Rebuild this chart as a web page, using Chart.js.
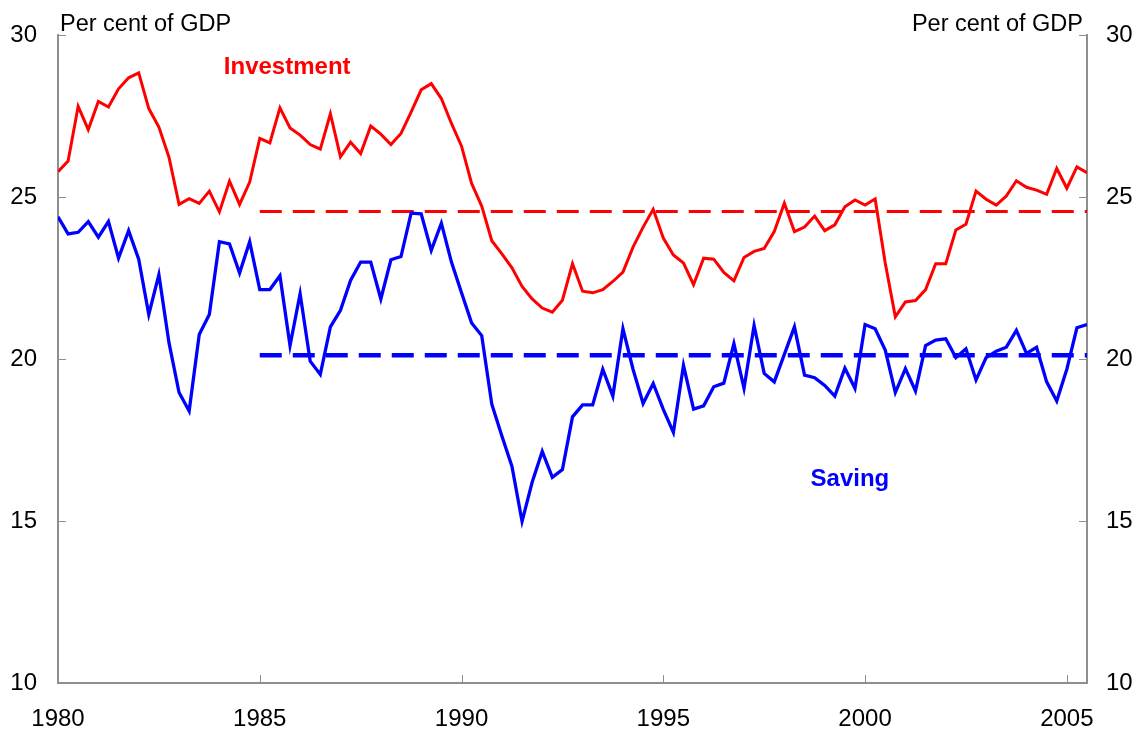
<!DOCTYPE html>
<html>
<head>
<meta charset="utf-8">
<script src="https://cdn.jsdelivr.net/npm/chart.js@4/dist/chart.umd.min.js"></script>
<style>
html, body { margin: 0; padding: 0; background: #ffffff; }
canvas { display: block; }
</style>
</head>
<body>
<canvas id="chart" width="1138" height="729"></canvas>
<script>
// ---- Data (quarterly, per cent of GDP, from 1980 Q1) ----
const startYear = 1980;
const investment = [
  25.79, 26.12, 27.81, 27.09, 27.96, 27.79, 28.35, 28.69, 28.84, 27.74,
  27.17, 26.24, 24.78, 24.96, 24.81, 25.19, 24.55, 25.50, 24.78, 25.47,
  26.82, 26.68, 27.76, 27.14, 26.92, 26.63, 26.49, 27.58, 26.25, 26.70,
  26.35, 27.20, 26.95, 26.63, 26.97, 27.63, 28.32, 28.51, 28.05, 27.28,
  26.58, 25.43, 24.73, 23.66, 23.25, 22.82, 22.25, 21.86, 21.58, 21.45,
  21.82, 22.95, 22.10, 22.05, 22.15, 22.40, 22.69, 23.46, 24.08, 24.63,
  23.74, 23.22, 22.97, 22.30, 23.12, 23.09, 22.68, 22.42, 23.14, 23.33,
  23.42, 23.94, 24.82, 23.94, 24.08, 24.42, 23.97, 24.15, 24.71, 24.92,
  24.76, 24.95, 22.97, 21.31, 21.77, 21.81, 22.15, 22.95, 22.95, 23.99,
  24.17, 25.19, 24.94, 24.76, 25.04, 25.51, 25.31, 25.22, 25.09, 25.89,
  25.28, 25.94, 25.76
];
const saving = [
  24.40, 23.87, 23.92, 24.25, 23.77, 24.25, 23.12, 23.97, 23.09, 21.38,
  22.61, 20.51, 18.97, 18.40, 20.76, 21.38, 23.63, 23.56, 22.66, 23.63,
  22.15, 22.15, 22.58, 20.42, 22.02, 19.94, 19.53, 21.00, 21.51, 22.43,
  23.00, 23.00, 21.86, 23.07, 23.17, 24.51, 24.49, 23.36, 24.20, 23.00,
  22.05, 21.12, 20.73, 18.61, 17.63, 16.69, 14.99, 16.20, 17.15, 16.35,
  16.59, 18.22, 18.59, 18.59, 19.69, 18.86, 20.94, 19.69, 18.63, 19.25,
  18.45, 17.74, 19.81, 18.46, 18.56, 19.15, 19.26, 20.48, 19.10, 21.04,
  19.56, 19.30, 20.15, 21.00, 19.51, 19.43, 19.19, 18.86, 19.72, 19.10,
  21.07, 20.94, 20.28, 18.97, 19.71, 19.02, 20.42, 20.59, 20.63, 20.05,
  20.32, 19.36, 20.05, 20.25, 20.37, 20.89, 20.18, 20.37, 19.30, 18.71,
  19.69, 20.97, 21.07
];
const investmentAverage = 24.56;
const savingAverage = 20.12;
const averageFromYear = 1985;
const xTickYears = [1980, 1985, 1990, 1995, 2000, 2005];
const yTickValues = [10, 15, 20, 25, 30];
const axisTitle = 'Per cent of GDP';
const seriesNames = ['Investment', 'Saving'];

// ---- Derived ----
const quarterX = investment.map((_, i) => startYear + i / 4);
const lastX = quarterX[quarterX.length - 1];
const toPoints = arr => arr.map((v, i) => ({ x: quarterX[i], y: v }));

const AXIS_COLOR = '#8e8e8e';
const FONT = "'Liberation Sans', Arial, Helvetica, sans-serif";
const RED = '#ff0000';
const BLUE = '#0000ff';

Chart.defaults.font.family = FONT;
Chart.defaults.color = '#000000';

const tickMarks = {
  id: 'tickMarks',
  beforeDatasetsDraw(chart) {
    const { ctx, chartArea: a, scales: { x, y } } = chart;
    ctx.save();
    ctx.strokeStyle = AXIS_COLOR;
    ctx.lineWidth = 1;
    ctx.beginPath();
    xTickYears.forEach((v, i) => {
      if (i === 0) return;
      const px = Math.round(x.getPixelForValue(v)) + 0.5;
      ctx.moveTo(px, a.bottom);
      ctx.lineTo(px, a.bottom - 8);
    });
    yTickValues.forEach(v => {
      const py = Math.round(y.getPixelForValue(v)) + 0.5;
      ctx.moveTo(a.left, py);
      ctx.lineTo(a.left + 8, py);
      ctx.moveTo(a.right, py);
      ctx.lineTo(a.right - 8, py);
    });
    ctx.stroke();
    ctx.restore();
  }
};

const textLabels = {
  id: 'textLabels',
  afterDraw(chart) {
    const { ctx, chartArea: a, scales: { x, y } } = chart;
    ctx.save();
    ctx.textBaseline = 'alphabetic';
    ctx.fillStyle = '#000000';
    ctx.font = '23.5px ' + FONT;
    ctx.textAlign = 'left';
    ctx.fillText(axisTitle, a.left + 2, 31);
    ctx.textAlign = 'right';
    ctx.fillText(axisTitle, a.right - 4, 31);
    ctx.font = 'bold 24px ' + FONT;
    ctx.textAlign = 'left';
    ctx.fillStyle = RED;
    ctx.fillText(seriesNames[0], x.getPixelForValue(1984.11), y.getPixelForValue(28.80));
    ctx.fillStyle = BLUE;
    ctx.fillText(seriesNames[1], x.getPixelForValue(1998.65), y.getPixelForValue(16.07));
    ctx.restore();
  }
};

const yAxisBase = {
  type: 'linear',
  min: 10,
  max: 30,
  grid: { display: false, drawTicks: false },
  border: { display: true, color: AXIS_COLOR, width: 2 },
  afterBuildTicks: s => { s.ticks = yTickValues.map(v => ({ value: v })); },
  ticks: { font: { size: 24 }, color: '#000000' }
};

new Chart(document.getElementById('chart').getContext('2d'), {
  type: 'line',
  data: {
    datasets: [
      {
        label: seriesNames[0],
        data: toPoints(investment),
        borderColor: RED,
        borderWidth: 3,
        pointRadius: 0,
        tension: 0,
        order: 1
      },
      {
        label: seriesNames[1],
        data: toPoints(saving),
        borderColor: BLUE,
        borderWidth: 3.3,
        pointRadius: 0,
        tension: 0,
        order: 0
      },
      {
        label: seriesNames[0] + ' average',
        data: [{ x: averageFromYear, y: investmentAverage }, { x: lastX, y: investmentAverage }],
        borderColor: RED,
        borderWidth: 3,
        borderDash: [22, 11],
        pointRadius: 0,
        order: 2
      },
      {
        label: seriesNames[1] + ' average',
        data: [{ x: averageFromYear, y: savingAverage }, { x: lastX, y: savingAverage }],
        borderColor: BLUE,
        borderWidth: 4.5,
        borderDash: [22, 11],
        pointRadius: 0,
        order: 2
      }
    ]
  },
  options: {
    responsive: false,
    animation: false,
    devicePixelRatio: 1,
    layout: { padding: { top: 35, left: 0, right: 0, bottom: 0 } },
    plugins: { legend: { display: false }, tooltip: { enabled: false } },
    scales: {
      x: {
        type: 'linear',
        position: 'bottom',
        min: startYear,
        max: lastX,
        grid: { display: false, drawTicks: false },
        border: { display: true, color: AXIS_COLOR, width: 2 },
        afterBuildTicks: s => { s.ticks = xTickYears.map(v => ({ value: v })); },
        afterFit: s => { s.height = 46; },
        ticks: {
          font: { size: 24 },
          color: '#000000',
          padding: 22,
          maxRotation: 0,
          autoSkip: false,
          callback: v => String(v)
        }
      },
      y: Object.assign({}, yAxisBase, {
        position: 'left',
        afterFit: s => { s.width = 58; },
        ticks: Object.assign({}, yAxisBase.ticks, { padding: 21 })
      }),
      y2: Object.assign({}, yAxisBase, {
        position: 'right',
        afterFit: s => { s.width = 51; },
        ticks: Object.assign({}, yAxisBase.ticks, { padding: 19 })
      })
    }
  },
  plugins: [tickMarks, textLabels]
});
</script>
</body>
</html>
